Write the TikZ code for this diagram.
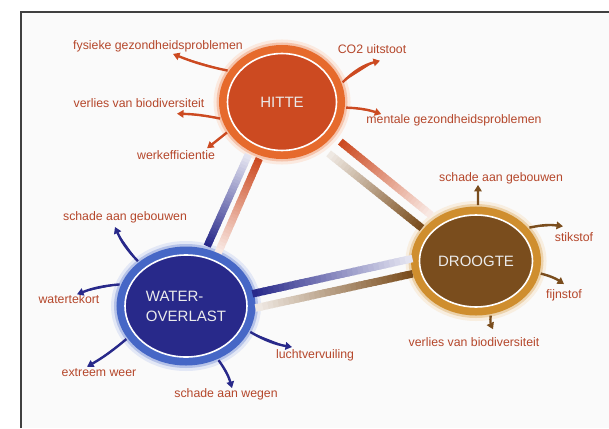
\documentclass[tikz,border=0pt]{standalone}
\usepackage{fontspec}
\setmainfont{Liberation Sans}
\usetikzlibrary{shapes.geometric,arrows.meta,calc}

\definecolor{lbltext}{HTML}{B5472B}
\definecolor{hotfill}{HTML}{CC4A21}
\definecolor{hotring}{HTML}{E66A2C}
\definecolor{wetfill}{HTML}{28298A}
\definecolor{wetring}{HTML}{4667C6}
\definecolor{dryfill}{HTML}{7A4D1D}
\definecolor{dryring}{HTML}{CF8E2E}

\tikzset{
  blob/.style={ellipse, draw=white, line width=1.6pt, text=white!92!black,
    font=\fontsize{15}{20}\selectfont, inner sep=0pt, outer sep=10pt},
  hot/.style={blob, fill=hotfill, preaction={draw=hotring!15, line width=28pt},
    preaction={draw=hotring!40, line width=22pt}, preaction={draw=hotring, line width=17pt}},
  wet/.style={blob, fill=wetfill, preaction={draw=wetring!15, line width=28pt},
    preaction={draw=wetring!40, line width=22pt}, preaction={draw=wetring, line width=17pt}},
  dry/.style={blob, fill=dryfill, preaction={draw=dryring!15, line width=28pt},
    preaction={draw=dryring!40, line width=22pt}, preaction={draw=dryring, line width=17pt}},
  lbl/.style={text=lbltext, font=\fontsize{12.3}{14}\selectfont, inner sep=0pt},
  effect/.style={line width=2.4pt, -{Triangle[length=6.5pt,width=7.5pt]}},
  hotarrow/.style={effect, draw=hotfill, fill=hotfill},
  wetarrow/.style={effect, draw=wetfill, fill=wetfill},
  dryarrow/.style={effect, draw=dryfill, fill=dryfill},
}

% bar between two blobs: from, to, offset at from, offset at to, start, end, colour
\newcommand{\linkbar}[7]{%
  \path ($(#1)!#3!90:(#2)$) coordinate (lbA) ($(#2)!#4!-90:(#1)$) coordinate (lbB);
  \foreach \k in {0,...,29}{
    \pgfmathtruncatemacro{\pct}{100-3*\k}
    \pgfmathsetmacro{\fa}{#5+(#6-#5)*\k/30}
    \pgfmathsetmacro{\fb}{#5+(#6-#5)*(\k+1.4)/30}
    \draw[line width=7.5pt, #7!\pct!white] ($(lbA)!\fa!(lbB)$) -- ($(lbA)!\fb!(lbB)$);
  }}

\begin{document}
\begin{tikzpicture}[x=1pt,y=-1pt]
\useasboundingbox (0,0) rectangle (609,428);
\fill[black!2] (21,12) rectangle (609,428);
\draw[black!75, line width=1.6pt] (21,428) -- (21,12) -- (609,12);

% the three blobs
\node[hot, minimum width=109pt, minimum height=97pt] (hitte) at (282,102) {HITTE};
\node[wet, minimum width=122pt, minimum height=102pt, align=left] (water) at (186,306) {WATER-\\OVERLAST};
\node[dry, minimum width=113pt, minimum height=92pt] (droogte) at (476,261) {DROOGTE};

% links
\linkbar{water}{hitte}{5.2pt}{9.1pt}{0.28}{0.72}{wetfill}
\linkbar{hitte}{water}{1.7pt}{8.3pt}{0.27}{0.72}{hotfill}
\linkbar{hitte}{droogte}{5.9pt}{7.4pt}{0.28}{0.74}{hotfill}
\linkbar{droogte}{hitte}{8.1pt}{11pt}{0.25}{0.72}{dryfill}
\linkbar{water}{droogte}{-2.4pt}{16.1pt}{0.23}{0.78}{wetfill}
\linkbar{droogte}{water}{-1pt}{16.8pt}{0.22}{0.76}{dryfill}

% labels
\node[lbl] (fys) at (158,46) {fysieke gezondheidsproblemen};
\node[lbl] (co) at (372,49) {CO2 uitstoot};
\node[lbl] (vlh) at (139,103) {verlies van biodiversiteit};
\node[lbl] (men) at (454,120) {mentale gezondheidsproblemen};
\node[lbl] (wrk) at (176,155) {werkefficientie};
\node[lbl] (sgw) at (125,217) {schade aan gebouwen};
\node[lbl] (wtk) at (69,299) {watertekort};
\node[lbl] (ext) at (99,373) {extreem weer};
\node[lbl] (swg) at (226,394) {schade aan wegen};
\node[lbl] (lv) at (315,355) {luchtvervuiling};
\node[lbl] (sgd) at (501,178) {schade aan gebouwen};
\node[lbl] (stk) at (574,237) {stikstof};
\node[lbl] (fjn) at (564,295) {fijnstof};
\node[lbl] (vld) at (474,342) {verlies van biodiversiteit};

% effects
\draw[hotarrow] (hitte.150) to[bend left=5] ([xshift=15pt,yshift=-2pt]fys.south);
\draw[hotarrow] (hitte.18) to[bend left=15] ([xshift=8pt,yshift=-7pt]co.south);
\draw[hotarrow] (hitte.195) to[bend right=5] ([xshift=38pt,yshift=-6pt]vlh.south);
\draw[hotarrow] (hitte.-5) to[bend left=8] ([xshift=15pt]men.north west);
\draw[hotarrow] (hitte.209) -- ([xshift=-8pt,yshift=2pt]wrk.north east);
\draw[wetarrow] (water.137) to[bend left=10] ([xshift=-10pt,yshift=-4pt]sgw.south);
\draw[wetarrow] (water.162) to[bend right=8] ([xshift=8pt]wtk.north);
\draw[wetarrow] (water.209) to[bend left=5] ([xshift=-12pt,yshift=2pt]ext.north);
\draw[wetarrow] (water.-59) to[bend left=10] ([xshift=6pt]swg.north);
\draw[wetarrow] (water.-22) to[bend right=10] ([xshift=-23pt,yshift=2pt]lv.north);
\draw[dryarrow] (droogte.88) -- ([xshift=-23pt,yshift=-1pt]sgd.south);
\draw[dryarrow] (droogte.32) to[bend left=10] ([xshift=-11pt,yshift=6pt]stk.north);
\draw[dryarrow] (droogte.-11) to[bend left=10] ([yshift=5pt]fjn.north);
\draw[dryarrow] (droogte.-75) to[bend right=15] ([xshift=19pt,yshift=8pt]vld.north);
\end{tikzpicture}
\end{document}
